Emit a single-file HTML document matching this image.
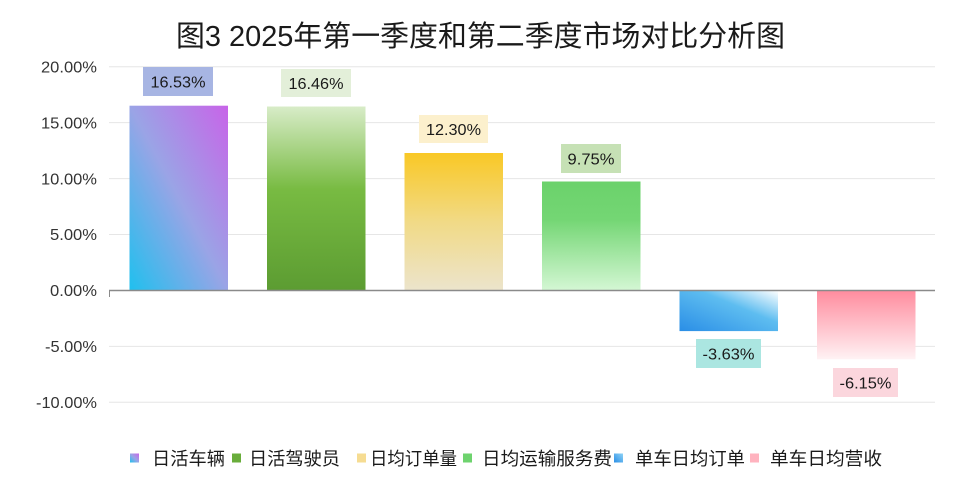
<!DOCTYPE html>
<html>
<head>
<meta charset="utf-8">
<style>
  html,body{margin:0;padding:0;background:#fff;}
  svg{display:block;}
  text{font-family:"Liberation Sans","Noto Sans CJK SC",sans-serif;}
</style>
</head>
<body>
<svg width="961" height="500" viewBox="0 0 961 500" xmlns="http://www.w3.org/2000/svg">
  <defs>
    <linearGradient id="g1" x1="0" y1="1" x2="1" y2="0">
      <stop offset="0" stop-color="#1fc0ee"/>
      <stop offset="0.5" stop-color="#9aa4e6"/>
      <stop offset="1" stop-color="#c864e8"/>
    </linearGradient>
    <linearGradient id="g2" x1="0" y1="0" x2="0" y2="1">
      <stop offset="0" stop-color="#d8ecc8"/>
      <stop offset="0.45" stop-color="#78bb42"/>
      <stop offset="1" stop-color="#5c9c32"/>
    </linearGradient>
    <linearGradient id="g3" x1="0" y1="0" x2="0" y2="1">
      <stop offset="0" stop-color="#f9c825"/>
      <stop offset="0.5" stop-color="#f1da86"/>
      <stop offset="1" stop-color="#ece4cc"/>
    </linearGradient>
    <linearGradient id="g4" x1="0" y1="0" x2="0" y2="1">
      <stop offset="0" stop-color="#6bd26b"/>
      <stop offset="0.35" stop-color="#74d674"/>
      <stop offset="1" stop-color="#d4f7d4"/>
    </linearGradient>
    <linearGradient id="g5" x1="0" y1="1" x2="1" y2="0">
      <stop offset="0" stop-color="#2a8ee6"/>
      <stop offset="0.6" stop-color="#5ebdf0"/>
      <stop offset="1" stop-color="#ffffff"/>
    </linearGradient>
    <linearGradient id="g5m" x1="0" y1="1" x2="1" y2="0">
      <stop offset="0" stop-color="#2a8ee6"/>
      <stop offset="1" stop-color="#8fd3f6"/>
    </linearGradient>
    <linearGradient id="g6" x1="0" y1="0" x2="0" y2="1">
      <stop offset="0" stop-color="#ff8c9e"/>
      <stop offset="1" stop-color="#fff2f4"/>
    </linearGradient>
  </defs>

  <!-- Title -->
  <text x="480.5" y="46" font-size="29" text-anchor="middle" fill="#1a1a1a" textLength="609" lengthAdjust="spacingAndGlyphs">图3 2025年第一季度和第二季度市场对比分析图</text>

  <!-- gridlines -->
  <g stroke="#e6e6e6" stroke-width="1">
    <line x1="109" y1="66.7" x2="935" y2="66.7"/>
    <line x1="109" y1="122.6" x2="935" y2="122.6"/>
    <line x1="109" y1="178.6" x2="935" y2="178.6"/>
    <line x1="109" y1="234.5" x2="935" y2="234.5"/>
    <line x1="109" y1="346.4" x2="935" y2="346.4"/>
    <line x1="109" y1="402.3" x2="935" y2="402.3"/>
  </g>

  <!-- y labels -->
  <g font-size="15.5" fill="#333" text-anchor="end">
    <text x="97" y="72.4" textLength="56" lengthAdjust="spacingAndGlyphs">20.00%</text>
    <text x="97" y="128.3" textLength="56" lengthAdjust="spacingAndGlyphs">15.00%</text>
    <text x="97" y="184.3" textLength="56" lengthAdjust="spacingAndGlyphs">10.00%</text>
    <text x="97" y="240.2" textLength="47" lengthAdjust="spacingAndGlyphs">5.00%</text>
    <text x="97" y="296.2" textLength="47" lengthAdjust="spacingAndGlyphs">0.00%</text>
    <text x="97" y="352.1" textLength="52" lengthAdjust="spacingAndGlyphs">-5.00%</text>
    <text x="97" y="408" textLength="61" lengthAdjust="spacingAndGlyphs">-10.00%</text>
  </g>

  <!-- bars -->
  <rect x="129.5" y="105.7" width="98.5" height="184.8" fill="url(#g1)"/>
  <rect x="267" y="106.5" width="98.5" height="184" fill="url(#g2)"/>
  <rect x="404.5" y="153" width="98.5" height="137.5" fill="url(#g3)"/>
  <rect x="542" y="181.5" width="98.5" height="109" fill="url(#g4)"/>
  <rect x="679.5" y="290.5" width="98.5" height="40.6" fill="url(#g5)"/>
  <rect x="817" y="290.5" width="98.5" height="68.8" fill="url(#g6)"/>

  <!-- zero axis -->
  <line x1="109" y1="290.5" x2="935" y2="290.5" stroke="#8a8a8a" stroke-width="1.5"/>
  <line x1="109.5" y1="290.5" x2="109.5" y2="297" stroke="#8a8a8a" stroke-width="1"/>

  <!-- data labels -->
  <rect x="143" y="67" width="70" height="29" fill="#a7b5e3"/>
  <rect x="281" y="69" width="70" height="28" fill="#e3efd9"/>
  <rect x="419" y="115" width="69" height="28" fill="#fcf0cd"/>
  <rect x="561" y="144" width="60" height="29" fill="#c6e1b5"/>
  <rect x="696" y="339" width="65" height="29" fill="#abe6e1"/>
  <rect x="833" y="368" width="65" height="29" fill="#fbd6dd"/>
  <g font-size="16" fill="#1a1a1a" text-anchor="middle">
    <text x="178" y="87.3" textLength="55" lengthAdjust="spacingAndGlyphs">16.53%</text>
    <text x="316" y="88.8" textLength="55" lengthAdjust="spacingAndGlyphs">16.46%</text>
    <text x="453.5" y="134.8" textLength="55" lengthAdjust="spacingAndGlyphs">12.30%</text>
    <text x="591" y="164.3" textLength="47" lengthAdjust="spacingAndGlyphs">9.75%</text>
    <text x="728.5" y="359.3" textLength="52" lengthAdjust="spacingAndGlyphs">-3.63%</text>
    <text x="865.5" y="388.3" textLength="52" lengthAdjust="spacingAndGlyphs">-6.15%</text>
  </g>

  <!-- legend -->
  <rect x="130" y="453.5" width="9" height="9" fill="url(#g1)"/>
  <rect x="232" y="453.5" width="9" height="9" fill="#69ad3b"/>
  <rect x="357" y="453.5" width="9" height="9" fill="#f6dc92"/>
  <rect x="463" y="453.5" width="9" height="9" fill="#6ed36e"/>
  <rect x="614" y="453.5" width="9" height="9" fill="url(#g5m)"/>
  <rect x="750" y="453.5" width="9" height="9" fill="#ffb3bf"/>
  <g font-size="18" fill="#1a1a1a">
    <text x="152" y="465" textLength="73" lengthAdjust="spacingAndGlyphs">日活车辆</text>
    <text x="249" y="465" textLength="91" lengthAdjust="spacingAndGlyphs">日活驾驶员</text>
    <text x="370" y="465" textLength="87" lengthAdjust="spacingAndGlyphs">日均订单量</text>
    <text x="482" y="465" textLength="130" lengthAdjust="spacingAndGlyphs">日均运输服务费</text>
    <text x="635" y="465" textLength="110" lengthAdjust="spacingAndGlyphs">单车日均订单</text>
    <text x="770" y="465" textLength="112" lengthAdjust="spacingAndGlyphs">单车日均营收</text>
  </g>
</svg>
</body>
</html>
